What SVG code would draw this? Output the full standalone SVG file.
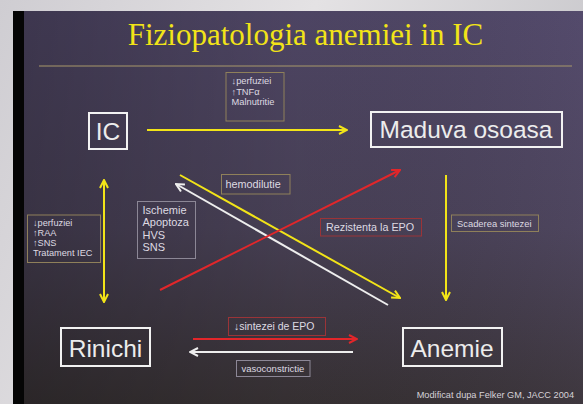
<svg xmlns="http://www.w3.org/2000/svg" width="583" height="404" viewBox="0 0 583 404">
<defs>
<linearGradient id="outer" x1="0" y1="0" x2="1" y2="0.3">
<stop offset="0" stop-color="#cfcdd2"/><stop offset="0.5" stop-color="#e4e2e4"/><stop offset="1" stop-color="#c9c8cc"/>
</linearGradient>
<linearGradient id="slideV" x1="0" y1="0" x2="0" y2="1">
<stop offset="0" stop-color="#514868"/><stop offset="0.55" stop-color="#4a4258"/><stop offset="1" stop-color="#383234"/>
</linearGradient>
<linearGradient id="slideH" x1="0" y1="0" x2="1" y2="0">
<stop offset="0" stop-color="#000" stop-opacity="0.25"/><stop offset="0.5" stop-color="#000" stop-opacity="0.05"/><stop offset="1" stop-color="#6a5f8a" stop-opacity="0.12"/>
</linearGradient>
<marker id="ay" viewBox="0 0 10 10" refX="9" refY="5" markerWidth="10" markerHeight="10" markerUnits="userSpaceOnUse" orient="auto-start-reverse">
<path d="M1,1 L9,5 L1,9" fill="none" stroke="#f2e418" stroke-width="2"/>
</marker>
<marker id="aw" viewBox="0 0 10 10" refX="9" refY="5" markerWidth="10" markerHeight="10" markerUnits="userSpaceOnUse" orient="auto">
<path d="M1,1 L9,5 L1,9" fill="none" stroke="#eeeeee" stroke-width="2"/>
</marker>
<marker id="ar" viewBox="0 0 10 10" refX="9" refY="5" markerWidth="10" markerHeight="10" markerUnits="userSpaceOnUse" orient="auto">
<path d="M1,1 L9,5 L1,9" fill="none" stroke="#e2262a" stroke-width="2"/>
</marker>
</defs>
<style>
.node rect{fill:none;stroke:#f2f2f2;stroke-width:2}
.node text{font-family:"Liberation Sans",Arial,sans-serif;font-size:24.5px;fill:#ececec;text-anchor:middle}
.lbl rect{fill:none;stroke-width:1}
.tan{stroke:#8f805a}
.grey{stroke:#8c8796}
.red{stroke:#9a3438}
.lbl text{font-family:"Liberation Sans","DejaVu Sans",Arial,sans-serif;fill:#dedae2}
.y{stroke:#f2e418;stroke-width:2;fill:none}
.w{stroke:#eeeeee;stroke-width:2;fill:none}
.r{stroke:#e2262a;stroke-width:2;fill:none}
</style>
<rect x="0" y="0" width="583" height="404" fill="url(#outer)"/>
<rect x="13" y="11" width="570" height="393" fill="url(#slideV)"/>
<rect x="13" y="11" width="570" height="393" fill="url(#slideH)"/>
<rect x="13" y="11" width="11" height="393" fill="#050505"/>
<text x="305.5" y="45" font-family="'Liberation Serif','Times New Roman',serif" font-size="31" fill="#f2e418" text-anchor="middle">Fiziopatologia anemiei in IC</text>
<line x1="39" y1="66" x2="572" y2="66" stroke="#a8986a" stroke-width="1.2"/>
<g id="connectors">
<line class="y" x1="147" y1="130" x2="347" y2="130" marker-end="url(#ay)"/>
<line class="y" x1="104" y1="180" x2="104" y2="302" marker-start="url(#ay)" marker-end="url(#ay)"/>
<line class="y" x1="446" y1="175" x2="446" y2="300" marker-end="url(#ay)"/>
<line class="y" x1="180" y1="175" x2="400" y2="298" marker-end="url(#ay)"/>
<line class="w" x1="388" y1="305" x2="176" y2="184" marker-end="url(#aw)"/>
<line class="r" x1="160" y1="290" x2="400" y2="170" marker-end="url(#ar)"/>
<line class="r" x1="193" y1="339" x2="357" y2="339" marker-end="url(#ar)"/>
<line class="w" x1="353" y1="352" x2="190" y2="352" marker-end="url(#aw)"/>
</g>
<g id="node-ic" class="node">
<rect x="89" y="113" width="38" height="36"/>
<text x="108" y="140">IC</text>
</g>
<g id="node-maduva" class="node">
<rect x="371" y="112" width="191" height="35"/>
<text x="466" y="138">Maduva osoasa</text>
</g>
<g id="node-rinichi" class="node">
<rect x="61" y="328" width="89" height="38"/>
<text x="105.5" y="356.5">Rinichi</text>
</g>
<g id="node-anemie" class="node">
<rect x="403" y="328" width="99" height="38"/>
<text x="452" y="356.5">Anemie</text>
</g>
<g id="label-top" class="lbl">
<rect class="tan" x="226" y="72.5" width="58" height="48.5"/>
<text font-size="9.3"><tspan x="231.5" y="84">↓perfuziei</tspan><tspan x="231.5" y="94.5">↑TNFα</tspan><tspan x="231.5" y="105">Malnutritie</tspan></text>
</g>
<g id="label-left" class="lbl">
<rect class="tan" x="27.5" y="215" width="73" height="47.5"/>
<text font-size="9.2"><tspan x="33" y="225.5">↓perfuziei</tspan><tspan x="33" y="235.8">↑RAA</tspan><tspan x="33" y="246.1">↑SNS</tspan><tspan x="33" y="256.4">Tratament IEC</tspan></text>
</g>
<g id="label-ischemie" class="lbl">
<rect class="grey" x="137.5" y="201.5" width="58" height="57"/>
<text font-size="11"><tspan x="142.5" y="214">Ischemie</tspan><tspan x="142.5" y="226">Apoptoza</tspan><tspan x="142.5" y="238.5">HVS</tspan><tspan x="142.5" y="251">SNS</tspan></text>
</g>
<g id="label-hemodilutie" class="lbl">
<rect class="tan" x="221.5" y="174.5" width="68.5" height="19.5"/>
<text x="225.5" y="188" font-size="10.8">hemodilutie</text>
</g>
<g id="label-rezistenta" class="lbl">
<rect class="red" x="320.5" y="218.5" width="101" height="17.5"/>
<text x="326" y="231" font-size="10.8">Rezistenta la EPO</text>
</g>
<g id="label-scaderea" class="lbl">
<rect class="tan" x="451.5" y="215" width="87" height="16.5"/>
<text x="457" y="226.8" font-size="9.4">Scaderea sintezei</text>
</g>
<g id="label-sintezei" class="lbl">
<rect class="red" x="228.5" y="317.5" width="97" height="18"/>
<text x="234" y="330" font-size="10.5">↓sintezei de EPO</text>
</g>
<g id="label-vaso" class="lbl">
<rect class="grey" x="236.5" y="360.5" width="73.5" height="16"/>
<text x="241.5" y="372" font-size="9.5">vasoconstrictie</text>
</g>
<text x="574" y="397.5" font-family="'Liberation Sans',Arial,sans-serif" font-size="9.2" fill="#d6d2d8" text-anchor="end">Modificat dupa Felker GM, JACC 2004</text>
</svg>
